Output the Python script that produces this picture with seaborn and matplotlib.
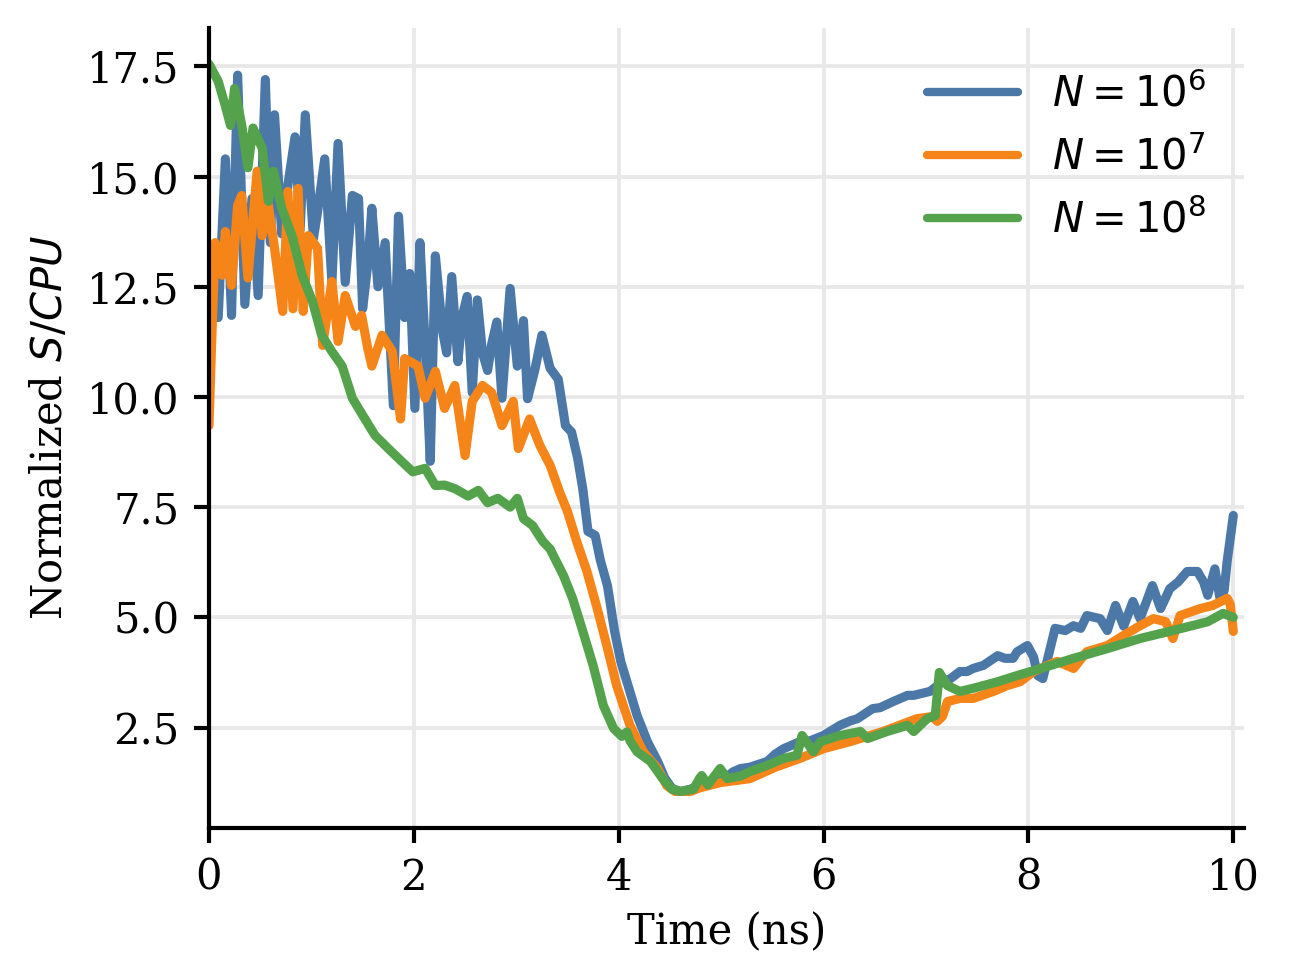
import numpy as np
import pandas as pd
import seaborn as sns
import matplotlib
matplotlib.use("Agg")
import matplotlib.pyplot as plt

# values
t_1e6 = [0.00, 0.09, 0.16, 0.22, 0.28, 0.35, 0.42, 0.48, 0.55, 0.60, 0.64, 0.71, 0.77, 0.84, 0.89,
         0.94, 1.02, 1.06, 1.13, 1.20, 1.26, 1.33, 1.40, 1.46, 1.50, 1.55, 1.59, 1.65, 1.72, 1.80,
         1.85, 1.91, 1.96, 2.01, 2.06, 2.11, 2.16, 2.21, 2.28, 2.32, 2.37, 2.43, 2.47, 2.52, 2.57,
         2.62, 2.67, 2.72, 2.76, 2.81, 2.86, 2.94, 3.01, 3.07, 3.11, 3.18, 3.25, 3.33, 3.41, 3.48,
         3.54, 3.60, 3.65, 3.70, 3.77, 3.82, 3.89, 3.96, 4.02, 4.08, 4.18, 4.28, 4.38, 4.45, 4.52,
         4.60, 4.70, 4.79, 4.89, 4.99, 5.12, 5.19, 5.28, 5.45, 5.53, 5.61, 5.77, 5.87, 6.00, 6.16,
         6.26, 6.33, 6.48, 6.55, 6.68, 6.82, 6.88, 7.04, 7.14, 7.24, 7.33, 7.40, 7.46, 7.56, 7.70,
         7.77, 7.85, 7.89, 7.99, 8.05, 8.09, 8.14, 8.26, 8.36, 8.44, 8.51, 8.57, 8.70, 8.77, 8.85,
         8.93, 9.02, 9.09, 9.21, 9.29, 9.38, 9.46, 9.55, 9.65, 9.71, 9.75, 9.82, 9.87, 9.91, 9.94,
         10.00]
s_1e6 = [12.0, 11.8, 15.4, 11.85, 17.3, 12.1, 14.5, 12.3, 17.2, 13.5, 16.4, 13.7, 14.8, 15.9, 13.8,
         16.4, 13.6, 14.2, 15.4, 12.6, 15.75, 12.6, 14.57, 14.5, 12.0, 13.0, 14.28, 12.5, 13.5, 9.8,
         14.1, 11.8, 12.8, 9.74, 13.5, 11.2, 8.54, 13.2, 11.5, 11.0, 12.73, 10.8, 11.8, 12.28, 10.1,
         12.2, 11.0, 10.6, 11.2, 11.7, 9.97, 12.46, 10.7, 11.73, 9.96, 10.6, 11.4, 10.65, 10.4, 9.35,
         9.2, 8.6, 7.9, 6.95, 6.86, 6.3, 5.72, 4.68, 4.0, 3.54, 2.77, 2.18, 1.73, 1.35, 1.12,
         1.05, 1.1, 1.2, 1.25, 1.27, 1.5, 1.57, 1.6, 1.73, 1.9, 2.02, 2.18, 2.2, 2.32, 2.55,
         2.65, 2.7, 2.93, 2.95, 3.09, 3.23, 3.23, 3.32, 3.5, 3.61, 3.77, 3.77, 3.84, 3.91, 4.13,
         4.07, 4.07, 4.22, 4.36, 4.1, 3.68, 3.61, 4.75, 4.7, 4.81, 4.75, 5.04, 4.97, 4.7, 5.27,
         4.8, 5.36, 4.97, 5.72, 5.2, 5.65, 5.8, 6.04, 6.04, 5.8, 5.5, 6.1, 5.43, 5.6, 6.27,
         7.31]

t_1e7 = [0.00, 0.03, 0.06, 0.13, 0.16, 0.22, 0.28, 0.32, 0.38, 0.47, 0.52, 0.58, 0.64, 0.72, 0.77,
         0.82, 0.87, 0.92, 0.97, 1.06, 1.11, 1.20, 1.26, 1.33, 1.43, 1.49, 1.55, 1.59, 1.69, 1.79,
         1.87, 1.91, 2.04, 2.11, 2.21, 2.30, 2.40, 2.50, 2.57, 2.67, 2.76, 2.86, 2.97, 3.02, 3.13,
         3.23, 3.33, 3.43, 3.50, 3.59, 3.69, 3.79, 3.89, 3.98, 4.11, 4.24, 4.38, 4.47, 4.55, 4.70,
         4.79, 4.99, 5.28, 5.53, 5.77, 6.00, 6.26, 6.58, 6.91, 7.06, 7.11, 7.16, 7.21, 7.33, 7.46,
         7.66, 7.79, 7.92, 8.05, 8.12, 8.28, 8.44, 8.57, 8.77, 8.93, 9.09, 9.22, 9.34, 9.41, 9.48,
         9.68, 9.80, 9.94, 9.97, 10.00]
s_1e7 = [9.35, 11.5, 13.5, 12.76, 13.75, 12.53, 14.35, 14.57, 12.7, 15.12, 13.66, 14.35, 13.37, 11.94, 14.66,
         12.0, 14.73, 11.94, 13.66, 13.37, 11.17, 12.62, 11.26, 12.3, 11.6, 11.85, 11.1, 10.7, 11.4, 11.03,
         9.5, 10.87, 10.7, 9.97, 10.58, 9.74, 10.26, 8.67, 9.9, 10.26, 10.1, 9.35, 9.9, 8.83, 9.5,
         8.9, 8.45, 7.8, 7.4, 6.72, 6.04, 5.2, 4.3, 3.45, 2.55, 1.95, 1.57, 1.18, 1.05, 1.05,
         1.13, 1.25, 1.34, 1.6, 1.8, 2.02, 2.18, 2.41, 2.7, 2.75, 2.64, 2.75, 3.09, 3.16, 3.16,
         3.32, 3.45, 3.54, 3.77, 3.84, 4.0, 3.84, 4.22, 4.36, 4.59, 4.81, 4.97, 4.9, 4.52, 5.04,
         5.2, 5.27, 5.43, 5.3, 4.68]

t_1e8 = [0.00, 0.09, 0.16, 0.21, 0.25, 0.32, 0.38, 0.43, 0.52, 0.58, 0.63, 0.71, 0.81, 0.91, 1.01,
         1.10, 1.20, 1.30, 1.40, 1.52, 1.62, 1.75, 1.88, 1.99, 2.11, 2.21, 2.30, 2.40, 2.53, 2.63,
         2.72, 2.82, 2.94, 3.01, 3.07, 3.16, 3.26, 3.33, 3.46, 3.55, 3.65, 3.75, 3.85, 3.95, 4.03,
         4.08, 4.11, 4.18, 4.31, 4.43, 4.52, 4.60, 4.73, 4.79, 4.81, 4.87, 4.99, 5.06, 5.19, 5.28,
         5.45, 5.61, 5.74, 5.79, 5.90, 5.97, 6.16, 6.36, 6.43, 6.62, 6.82, 6.88, 7.01, 7.09, 7.13,
         7.21, 7.33, 7.46, 7.70, 7.89, 8.12, 8.44, 8.77, 9.09, 9.41, 9.75, 9.90, 10.00]
s_1e8 = [17.55, 17.16, 16.6, 16.16, 17.0, 16.16, 15.2, 16.1, 15.64, 14.44, 15.12, 14.28, 13.66, 12.76, 12.17,
         11.4, 11.03, 10.7, 9.97, 9.51, 9.13, 8.83, 8.54, 8.3, 8.38, 7.99, 8.0, 7.92, 7.75, 7.88,
         7.6, 7.7, 7.5, 7.7, 7.24, 7.08, 6.72, 6.55, 5.95, 5.43, 4.68, 3.91, 3.0, 2.48, 2.3,
         2.4, 2.2, 1.95, 1.73, 1.34, 1.1, 1.05, 1.1, 1.35, 1.41, 1.2, 1.57, 1.34, 1.4, 1.5,
         1.64, 1.8, 1.87, 2.32, 1.95, 2.18, 2.32, 2.41, 2.25, 2.41, 2.55, 2.41, 2.7, 2.77, 3.75,
         3.45, 3.32, 3.39, 3.54, 3.68, 3.84, 4.07, 4.29, 4.52, 4.7, 4.9, 5.09, 5.0]

labels = [r"$N=10^6$", r"$N=10^7$", r"$N=10^8$"]
colors = ["#4C78A8", "#F58518", "#54A24B"]

frames = []
for lab, t, s in zip(labels, [t_1e6, t_1e7, t_1e8], [s_1e6, s_1e7, s_1e8]):
    frames.append(pd.DataFrame({"time": t, "val": s, "run": lab}))
df = pd.concat(frames, ignore_index=True)

sns.set_style("ticks")
plt.rcParams["font.family"] = "DejaVu Serif"
plt.rcParams["axes.linewidth"] = 1.0
for k in ["text.color", "axes.labelcolor", "xtick.color", "ytick.color", "axes.edgecolor"]:
    plt.rcParams[k] = "black"

fig, ax = plt.subplots(figsize=(4.3, 3.19), dpi=300)
sns.lineplot(data=df, x="time", y="val", hue="run", hue_order=labels,
             palette=colors, linewidth=2.2, ax=ax, sort=False, estimator=None)

ax.grid(True, color="#e8e8e8", linewidth=0.9)
ax.set_axisbelow(True)
ax.set_xlim(0, 10.1)
ax.set_xticks([0, 2, 4, 6, 8, 10])
ax.set_yticks([2.5, 5.0, 7.5, 10.0, 12.5, 15.0, 17.5])
ax.tick_params(labelsize=10, length=3.5, width=1)
ax.set_xlabel("Time (ns)", fontsize=10, labelpad=3)
ax.set_ylabel("Normalized $S/CPU$", fontsize=10)
sns.despine(ax=ax)

leg = ax.legend(frameon=False, fontsize=10, loc="upper right", handlelength=2.2,
                bbox_to_anchor=(1.0, 0.99))
for ln in leg.get_lines():
    ln.set_linewidth(2)

fig.subplots_adjust(left=0.162, right=0.964, bottom=0.135, top=0.971)
fig.savefig("out.png", dpi=300)
